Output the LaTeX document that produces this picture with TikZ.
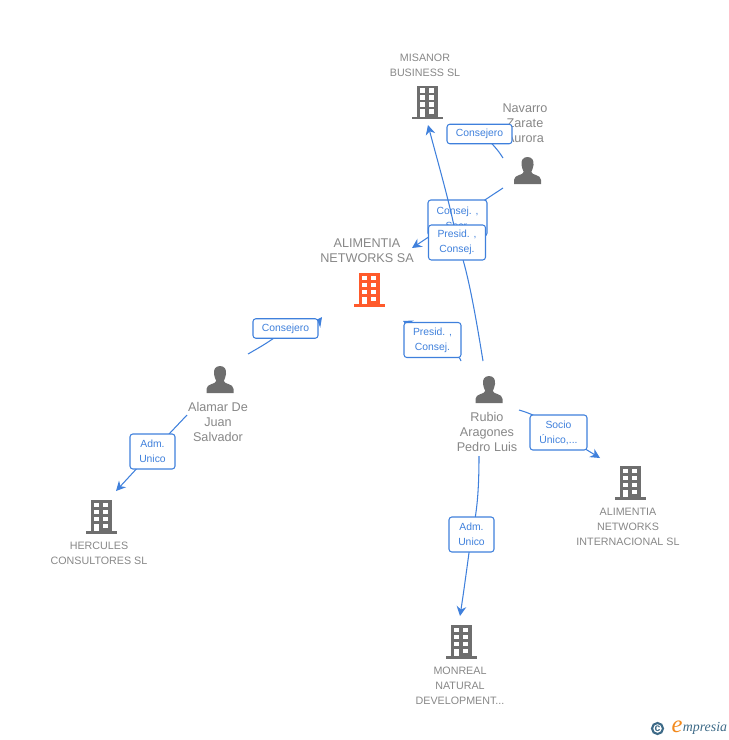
\documentclass[tikz,border=0pt]{standalone}
\usepackage{fontspec}
\setmainfont{Liberation Sans}
\newfontfamily\logofont{Liberation Serif}
\usetikzlibrary{arrows.meta}
\usetikzlibrary{backgrounds}

\definecolor{iconGrey}{HTML}{6E6E6E}
\definecolor{nameGrey}{HTML}{878787}
\definecolor{linkBlue}{HTML}{3F80DC}
\definecolor{firmRed}{HTML}{FF5A2B}
\definecolor{logoBlue}{HTML}{3D6A87}
\definecolor{logoOrange}{HTML}{F28A1E}

\tikzset{
  linkline/.style={linkBlue, line width=.6pt},
  linkarrow/.style={linkline, -{Stealth[length=5.5pt,width=5.5pt]}},
  tagbox/.style={draw=linkBlue, line width=.6pt, rounded corners=1.6pt, fill=white, text=linkBlue, align=center,
    inner sep=0pt, font=\fontsize{5.9}{8.5}\selectfont},
  personname/.style={text=nameGrey, align=center, inner sep=0pt, font=\fontsize{7.2}{8.5}\selectfont},
  firmname/.style={text=nameGrey, align=center, inner sep=0pt, font=\fontsize{6.1}{8.5}\selectfont},
  pics/bldg/.style={code={
    \fill[#1] (-10.5,0) rectangle (11,31);
    \fill[#1] (-15.5,31) rectangle (16,33.5);
    \foreach \y in {2.5,9.5,16.5} {
      \fill[white] (-7.3,\y) rectangle (-2.4,\y+4.6);
      \fill[white] (2.4,\y) rectangle (7.3,\y+4.6);
    }
    \fill[white] (2.4,23.5) rectangle (7.3,28);
    \fill[white] (-7.3,23.5) rectangle (-2.4,31);
  }},
  pics/persona/.style={code={
    \fill[iconGrey] (0,0) .. controls (-5,0) and (-6.5,4) .. (-6,8) .. controls (-5.7,11) and (-4.5,13) .. (-3.8,15)
      .. controls (-4.5,18.5) and (-13.5,17.5) .. (-13.5,23) -- (-13.5,27) -- (13.5,27) -- (13.5,23)
      .. controls (13.5,17.5) and (4.5,18.5) .. (3.8,15) .. controls (4.5,13) and (5.7,11) .. (6,8)
      .. controls (6.5,4) and (5,0) .. (0,0) -- cycle;
  }}
}

\begin{document}
\begin{tikzpicture}[x=.02cm, y=-.02cm]
\useasboundingbox (0,0) rectangle (728,740);

% firms
\pic (misanorIcon) at (427,86) {bldg=iconGrey};
\pic (alimentiaIcon) at (369,273) {bldg=firmRed};
\pic (herculesIcon) at (101,500) {bldg=iconGrey};
\pic (internacionalIcon) at (630,466) {bldg=iconGrey};
\pic (monrealIcon) at (461,625) {bldg=iconGrey};

% people
\pic (navarroIcon) at (527.5,157) {persona};
\pic (alamarIcon) at (220,366) {persona};
\pic (rubioIcon) at (489,376) {persona};

\node[firmname] (misanor) at (425,65) {MISANOR\\BUSINESS SL};
\node[personname] (alimentia) at (367,250.5) {ALIMENTIA\\NETWORKS SA};
\node[firmname] (hercules) at (99,553.5) {HERCULES\\CONSULTORES SL};
\node[firmname] (internacional) at (628,527) {ALIMENTIA\\NETWORKS\\INTERNACIONAL SL};
\node[firmname] (monreal) at (460,686) {MONREAL\\NATURAL\\DEVELOPMENT...};
\node[personname] (navarro) at (525,123) {Navarro\\Zarate\\Aurora};
\node[personname] (alamar) at (218,422) {Alamar De\\Juan\\Salvador};
\node[personname] (rubio) at (487,432) {Rubio\\Aragones\\Pedro Luis};

% free ends of the links
\coordinate (navarroUp) at (503,158);
\coordinate (navarroDown) at (503,188);
\coordinate (alamarUp) at (248,354);
\coordinate (alamarDown) at (187,415);
\coordinate (rubioUp) at (483,361);
\coordinate (rubioLeft) at (461,361);
\coordinate (rubioRight) at (519,410);
\coordinate (rubioDown) at (479,456);
\coordinate (misanorIn) at (428,125);
\coordinate (alimentiaInA) at (412,248);
\coordinate (alimentiaInB) at (403,321);
\coordinate (alimentiaInC) at (322,317);
\coordinate (herculesIn) at (116,491);
\coordinate (internacionalIn) at (600,458);
\coordinate (monrealIn) at (460,616);

% tags
\node[tagbox, minimum width=65*.02cm, minimum height=19.5*.02cm] (tagConsejeroA) at (479.5,134) {Consejero};
\node[tagbox, minimum width=57*.02cm, minimum height=35*.02cm] (tagPresidA) at (457,242.5) {Presid. ,\\Consej.};
\node[tagbox, minimum width=57*.02cm, minimum height=35*.02cm] (tagPresidB) at (432.5,340) {Presid. ,\\Consej.};
\node[tagbox, minimum width=65*.02cm, minimum height=19.5*.02cm] (tagConsejeroB) at (285.5,328.5) {Consejero};
\node[tagbox, minimum width=45*.02cm, minimum height=35*.02cm] (tagAdmA) at (152.5,451.5) {Adm.\\Unico};
\node[tagbox, minimum width=57*.02cm, minimum height=35*.02cm] (tagSocio) at (558.5,432.5) {Socio\\Único,...};
\node[tagbox, minimum width=45*.02cm, minimum height=35*.02cm] (tagAdmB) at (471.5,534.5) {Adm.\\Unico};

\begin{pgfonlayer}{background}
\draw[linkline] (navarroUp) .. controls (498,150) and (490,140) .. (tagConsejeroA.center);
\draw[linkline] (navarroDown) -- (457.5,218);
\draw[linkarrow] (457.5,218) -- (alimentiaInA);
\node[tagbox, minimum width=59*.02cm, minimum height=36*.02cm] (tagSecr) at (457.5,218) {Consej. ,\\Secr.};
\draw[linkline] (rubioUp) .. controls (476,318) and (467,265) .. (tagPresidA.center);
\draw[linkarrow] (tagPresidA.center) .. controls (453,215) and (440,170) .. (misanorIn);
\draw[linkline] (rubioLeft) .. controls (460,356) and (450,350) .. (tagPresidB.center);
\draw[linkarrow] (tagPresidB.center) .. controls (420,330) and (412,325) .. (alimentiaInB);
\draw[linkline] (alamarUp) .. controls (262,346) and (276,338) .. (tagConsejeroB.center);
\draw[linkarrow] (tagConsejeroB.center) .. controls (305,334) and (314,328) .. (alimentiaInC);
\draw[linkline] (alamarDown) -- (tagAdmA.center);
\draw[linkarrow] (tagAdmA.center) -- (herculesIn);
\draw[linkline] (rubioRight) .. controls (533,414) and (545,420) .. (tagSocio.center);
\draw[linkarrow] (tagSocio.center) -- (internacionalIn);
\draw[linkline] (rubioDown) .. controls (479,490) and (477,515) .. (tagAdmB.center);
\draw[linkarrow] (tagAdmB.center) .. controls (468,560) and (464,590) .. (monrealIn);
\end{pgfonlayer}

% logo
\node[draw=logoBlue, line width=1.2pt, circle, minimum size=11*.02cm, inner sep=0pt, text=logoBlue,
  font=\fontsize{6}{6}\selectfont\bfseries] (logoMark) at (657.5,728.5) {c};
\node[text=logoOrange, inner sep=0pt, font=\logofont\itshape\fontsize{14}{14}\selectfont] (logoE) at (677,726.5) {e};
\node[text=logoBlue, inner sep=0pt, anchor=west, font=\logofont\itshape\fontsize{7.9}{8}\selectfont] (logoWord) at (682.5,728.5) {mpresia};

\end{tikzpicture}
\end{document}
